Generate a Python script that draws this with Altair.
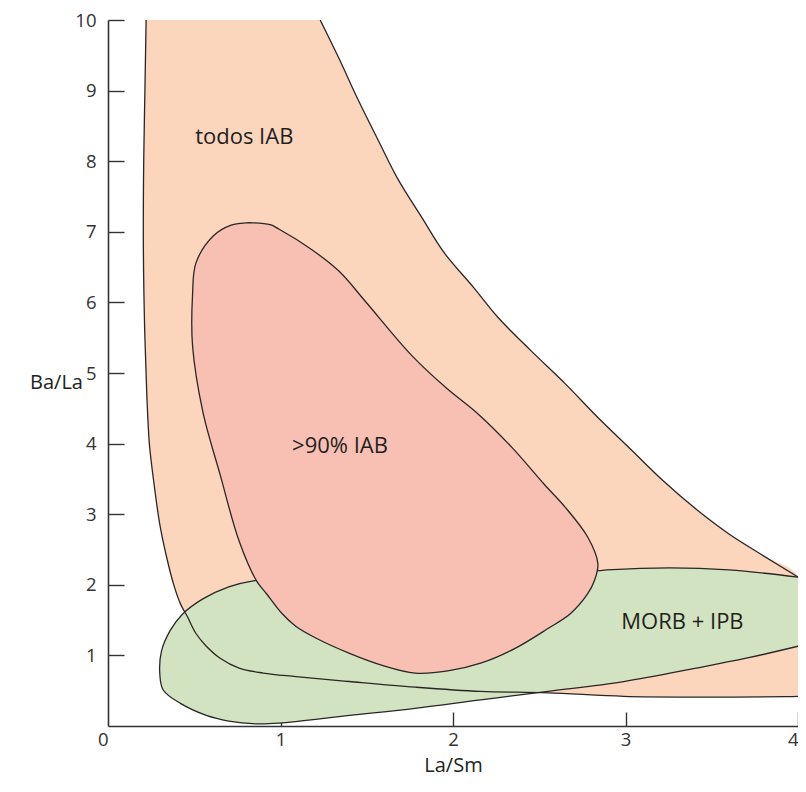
import altair as alt
import pandas as pd

# ---- data ----
# "todos IAB" field: starts at the top-right corner, runs down the right edge,
# back along the bottom and up the left edge (top edge closes the shape)
todos_x = [1.23, 1.34, 1.45, 1.57, 1.68, 1.82, 1.95, 2.12, 2.26, 2.45, 2.65, 2.84, 3.03,
           3.22, 3.41, 3.60, 3.80, 4.00, 4.00, 4.00, 3.93, 3.45, 2.99, 2.55, 2.16, 1.78, 1.40,
           1.09, 0.90, 0.76, 0.65, 0.57, 0.51, 0.46, 0.42, 0.38, 0.34, 0.30, 0.26, 0.24, 0.225,
           0.212, 0.205, 0.207, 0.214, 0.221]
todos_y = [10.0, 9.45, 8.87, 8.28, 7.75, 7.20, 6.70, 6.21, 5.79, 5.32, 4.85, 4.37, 3.92,
           3.47, 3.07, 2.72, 2.41, 2.11, 0.47, 0.42, 0.415, 0.41, 0.42, 0.47, 0.49, 0.55, 0.63,
           0.70, 0.75, 0.82, 0.96, 1.13, 1.31, 1.55, 1.73, 2.01, 2.39, 2.86, 3.56, 3.99, 4.69,
           5.68, 6.80, 8.00, 9.00, 10.0]

# "MORB + IPB" field (right edge at x=4 closes the shape)
morb_x = [4.00, 3.60, 3.26, 2.89, 2.84, 2.26, 1.68, 1.11, 0.85, 0.70, 0.55, 0.43, 0.36, 0.31,
          0.30, 0.32, 0.42, 0.57, 0.70, 0.86, 0.99, 1.40, 1.78, 2.16, 2.55, 2.99, 3.41, 3.70, 4.00]
morb_y = [2.11, 2.21, 2.24, 2.21, 2.20, 2.18, 2.15, 2.10, 2.06, 1.97, 1.80, 1.58, 1.35, 1.06,
          0.75, 0.51, 0.32, 0.15, 0.07, 0.03, 0.04, 0.15, 0.25, 0.37, 0.49, 0.63, 0.82, 0.96, 1.13]

# ">90% IAB" field (closed loop)
gt90_x = [0.82, 0.94, 0.99, 1.18, 1.34, 1.49, 1.76, 1.96, 2.15, 2.34, 2.53, 2.65, 2.78, 2.84,
          2.82, 2.78, 2.68, 2.55, 2.36, 2.16, 1.97, 1.78, 1.59, 1.40, 1.21, 1.09, 1.01, 0.92,
          0.86, 0.76, 0.65, 0.55, 0.49, 0.49, 0.51, 0.61, 0.71]
gt90_y = [7.13, 7.10, 7.04, 6.75, 6.44, 6.02, 5.25, 4.79, 4.41, 3.95, 3.42, 3.10, 2.68, 2.30,
          2.06, 1.87, 1.59, 1.38, 1.10, 0.89, 0.78, 0.75, 0.86, 1.03, 1.24, 1.41, 1.59, 1.87,
          2.06, 2.62, 3.56, 4.45, 5.39, 6.10, 6.56, 6.94, 7.09]

label_text = ["todos IAB", ">90% IAB", "MORB + IPB"]
label_x = [0.79, 1.345, 3.33]
label_y = [8.34, 3.96, 1.48]

x_ticks = [0, 1, 2, 3, 4]
y_ticks = [1, 2, 3, 4, 5, 6, 7, 8, 9, 10]

# ---- colours / fonts ----
C_TODOS = "#FCD5BD"
C_GT90 = "#F8C0B3"
C_MORB = "#D2E3C2"
C_LINE = "#2a2626"
FONT = "Open Sans"
INTERP = "catmull-rom"


def poly(xs, ys):
    return pd.DataFrame({"x": xs, "y": ys, "ord": list(range(len(xs)))})


def seg(name, xs, ys):
    return pd.DataFrame({"x": xs, "y": ys, "ord": list(range(len(xs))), "seg": name})


df_todos = poly(todos_x, todos_y)
df_morb = poly(morb_x, morb_y)
df_gt90 = poly(gt90_x, gt90_y)

# outlines (cut edges at the top and at x=4 carry no stroke)
out_todos_a = seg("todos_a", todos_x[:18], todos_y[:18])
out_todos_b = seg("todos_b", todos_x[19:], todos_y[19:])
out_morb = seg("morb", morb_x, morb_y)
df_out1 = pd.concat([out_todos_a, out_todos_b, out_morb], ignore_index=True)
df_out2 = seg("gt90", gt90_x + [gt90_x[0]], gt90_y + [gt90_y[0]])

df_lab = pd.DataFrame({"t": label_text, "x": label_x, "y": label_y})

xscale = alt.Scale(domain=[0, 4], nice=False, zero=False)
yscale = alt.Scale(domain=[0, 10], nice=False, zero=False)

main_x_axis = alt.Axis(
    orient="bottom", values=x_ticks, ticks=False, tickSize=0, grid=False,
    domain=True, domainColor="#333333", domainWidth=1.6,
    labelFont=FONT, labelFontSize=18.5, labelColor="#333333", labelPadding=4,
    labelFlush=False,
    labelExpr="datum.value == 0 ? '0\u00a0' : datum.label",
    labelAlign={"condition": {"test": "datum.value == 0 || datum.value == 4", "value": "right"},
                "value": "center"},
    title="La/Sm", titleFont=FONT, titleFontSize=20, titleFontWeight="normal",
    titleColor="#222222", titleY=39, titleBaseline="middle",
)
main_y_axis = alt.Axis(
    orient="left", values=y_ticks, ticks=False, tickSize=0, grid=False,
    domain=True, domainColor="#333333", domainWidth=1.6,
    labelFont=FONT, labelFontSize=18.5, labelColor="#333333", labelPadding=12,
    labelFlush=False,
    title="Ba/La", titleFont=FONT, titleFontSize=20, titleFontWeight="normal",
    titleColor="#222222", titleAngle=0, titleX=-52, titleY=362,
    titleAlign="center", titleBaseline="middle",
)
tick_x_axis = alt.Axis(
    orient="bottom", values=[1, 2, 3, 4], domain=False, labels=False, grid=False,
    ticks=True, tickSize=14, offset=-14, tickColor="#333333", tickWidth=1.4, title=None,
)
tick_y_axis = alt.Axis(
    orient="left", values=y_ticks, domain=False, labels=False, grid=False,
    ticks=True, tickSize=16, offset=-16, tickColor="#333333", tickWidth=1.4, title=None,
)

fill_todos = alt.Chart(df_todos).mark_line(
    fill=C_TODOS, strokeOpacity=0, interpolate=INTERP, clip=True
).encode(
    x=alt.X("x:Q", scale=xscale, axis=main_x_axis),
    y=alt.Y("y:Q", scale=yscale, axis=main_y_axis),
    order="ord:Q",
)

fill_morb = alt.Chart(df_morb).mark_line(
    fill=C_MORB, strokeOpacity=0, interpolate=INTERP, clip=True
).encode(
    x=alt.X("x:Q", scale=xscale, axis=tick_x_axis),
    y=alt.Y("y:Q", scale=yscale, axis=tick_y_axis),
    order="ord:Q",
)

outline1 = alt.Chart(df_out1).mark_line(
    color=C_LINE, strokeWidth=1.3, interpolate=INTERP, clip=True
).encode(
    x=alt.X("x:Q", scale=xscale, axis=None),
    y=alt.Y("y:Q", scale=yscale, axis=None),
    detail="seg:N",
    order="ord:Q",
)

fill_gt90 = alt.Chart(df_gt90).mark_line(
    fill=C_GT90, strokeOpacity=0, interpolate=INTERP, clip=True
).encode(
    x=alt.X("x:Q", scale=xscale, axis=None),
    y=alt.Y("y:Q", scale=yscale, axis=None),
    order="ord:Q",
)

outline2 = alt.Chart(df_out2).mark_line(
    color=C_LINE, strokeWidth=1.3, interpolate=INTERP, clip=True
).encode(
    x=alt.X("x:Q", scale=xscale, axis=None),
    y=alt.Y("y:Q", scale=yscale, axis=None),
    order="ord:Q",
)

labels = alt.Chart(df_lab).mark_text(
    font=FONT, fontSize=22, color="#231f20", align="center", baseline="middle"
).encode(
    x=alt.X("x:Q", scale=xscale, axis=None),
    y=alt.Y("y:Q", scale=yscale, axis=None),
    text="t:N",
)

chart = alt.layer(
    fill_todos, fill_morb, outline1, fill_gt90, outline2, labels
).resolve_axis(
    x="independent", y="independent"
).properties(
    width=690, height=706,
    autosize=alt.AutoSizeParams(type="none"),
    padding={"left": 100, "top": 12, "right": 0, "bottom": 53},
    background="white",
).configure_view(stroke=None)

chart.save("out.html", embed_options={"renderer": "svg", "actions": False})
